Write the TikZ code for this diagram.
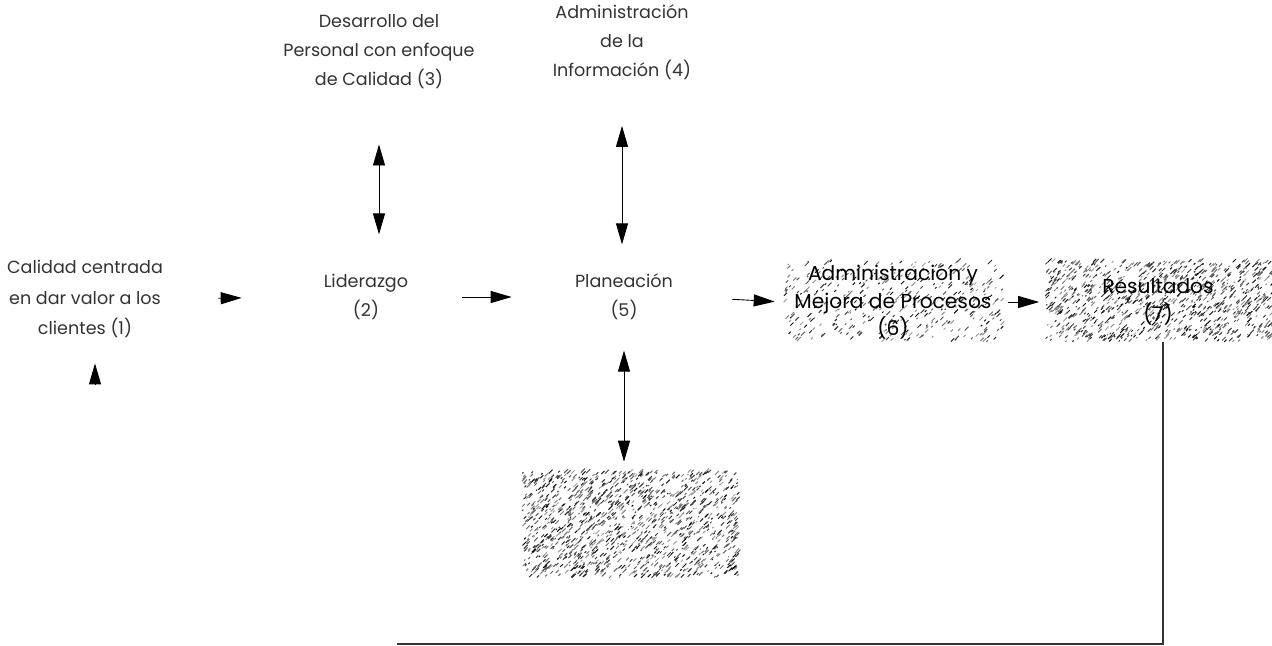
\documentclass[tikz,border=0pt]{standalone}
\usepackage{fontspec}
\setmainfont{Poppins}
\usetikzlibrary{arrows.meta}

% scatter short random strokes over a rectangle to give a grainy fill
\newcommand\grainfill[5]{%
  \foreach \k in {1,...,#5}{%
    \pgfmathsetmacro\gx{#1+rnd*(#3-#1)}%
    \pgfmathsetmacro\gy{#2+rnd*(#4-#2)}%
    \pgfmathsetmacro\gl{1+3*rnd}%
    \pgfmathsetmacro\gc{35+65*rnd}%
    \draw[line width=0.55pt,black!\gc] (\gx,\gy) -- ++(\gl,-\gl);
  }%
}

\tikzset{ftip/.tip={Triangle[length=0.42cm,width=0.24cm]}}

\begin{document}
\begin{tikzpicture}[x=0.02cm,y=-0.02cm,
  lbl/.style={align=center,font=\fontsize{10}{16.5}\selectfont,inner sep=0pt,text=black!80},
  boxlbl/.style={align=center,font=\fontsize{11.5}{15.5}\selectfont,inner sep=0pt,text=black},
  flow/.style={-{ftip},line width=0.5pt},
  both/.style={{ftip}-{ftip},line width=0.5pt},
  back/.style={line width=0.6pt,black!80}]
\useasboundingbox (0,0) rectangle (1272,646);
\pgfmathsetseed{4217}

% grainy panels
\grainfill{783}{262}{1003}{342}{380}
\grainfill{1045}{262}{1272}{342}{1000}
\grainfill{522}{472}{737}{578}{1300}

% labels
\node[lbl,minimum width=3.4cm,font=\fontsize{10}{17.5}\selectfont] (n1) at (85,299) {Calidad centrada\\en dar valor a los\\clientes (1)};
\node[lbl,minimum width=2.6cm,minimum height=1.05cm] (n2) at (366,297) {Liderazgo\\(2)};
\node[lbl,minimum width=2.6cm,minimum height=1.05cm] (n5) at (624,297) {Planeación\\(5)};
\node[lbl] (n3) at (379,52) {Desarrollo del\\Personal con enfoque\\de Calidad (3)};
\node[lbl] (n4) at (622,42) {Administración\\de la\\Información (4)};
\node[boxlbl,minimum width=4.4cm,minimum height=1.6cm] (n6) at (893,302) {Administración y\\Mejora de Procesos\\(6)};
\node[boxlbl,minimum width=4.54cm,minimum height=1.6cm] (n7) at (1158,302) {Resultados\\(7)};
\node[minimum width=4.3cm,minimum height=2.12cm,inner sep=0pt] (n8) at (630,525) {};

% main flow
\draw[flow,shorten <=0.96cm,shorten >=1.18cm] (n1.east) -- (n2.west);
\draw[flow,shorten <=0.62cm,shorten >=0.94cm] (n2.east) -- (n5.west);
\draw[flow,shorten <=0.86cm,shorten >=0.16cm] (n5.east) -- (n6.west);
\draw[flow,shorten <=0.1cm,shorten >=0.1cm] (n6.east) -- (n7.west);

% two-way links
\draw[both,shorten <=1.1cm,shorten >=0.72cm] (n3.south) -- (n3.south |- n2.north);
\draw[both,shorten <=0.92cm,shorten >=0.52cm] (n4.south) -- (n4.south |- n5.north);
\draw[both,shorten <=0.54cm,shorten >=0.2cm] (n5.south) -- (n5.south |- n8.north);

% return path
\coordinate (ret) at (397,644);
\draw[back] ([xshift=0.1cm]n7.south) |- (ret);
\coordinate (upfoot) at (95,384);
\draw[flow,shorten >=0.5cm] (upfoot) -- (upfoot |- n1.south);
\end{tikzpicture}
\end{document}
